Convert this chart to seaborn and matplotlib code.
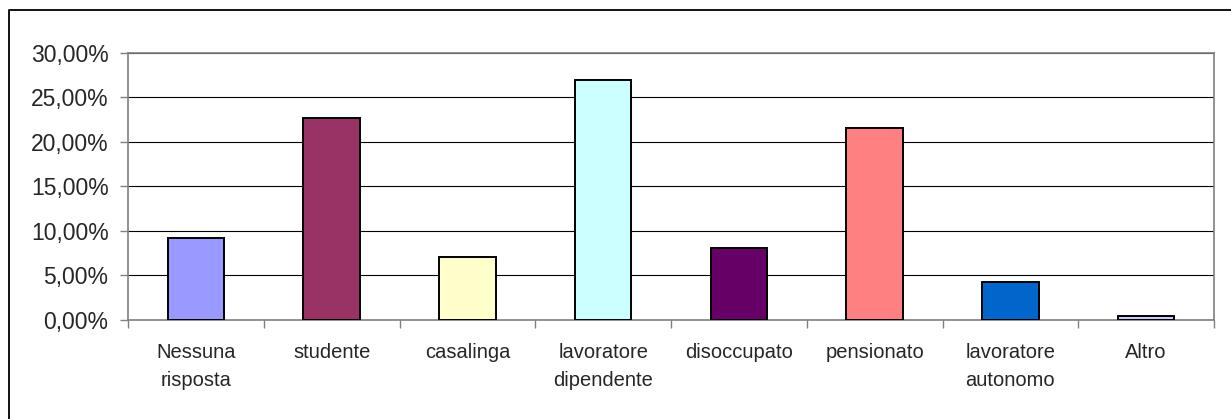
import numpy as np
import seaborn as sns
import matplotlib.pyplot as plt
from matplotlib.lines import Line2D
from matplotlib.ticker import FuncFormatter, MultipleLocator, FixedLocator

# dati
categorie = ['Nessuna\nrisposta', 'studente', 'casalinga', 'lavoratore\ndipendente',
             'disoccupato', 'pensionato', 'lavoratore\nautonomo', 'Altro']
percentuali = [9.22, 22.68, 7.04, 26.92, 8.02, 21.48, 4.27, 0.41]
colori = ['#9999FF', '#993366', '#FFFFCC', '#CCFFFF',
          '#660066', '#FF8080', '#0066CC', '#CCCCFF']

sns.set_style('white')
plt.rcParams['font.family'] = ['Liberation Sans', 'DejaVu Sans']

W, H = 1231, 419
fig = plt.figure(figsize=(W / 100, H / 100), dpi=100)
ax = fig.add_axes([128 / W, 1 - 319.5 / H, (1214 - 128) / W, (319.5 - 52.7) / H])

sns.barplot(x=categorie, y=percentuali, hue=categorie, palette=colori,
            width=0.415, edgecolor='black', linewidth=1.4, legend=False,
            saturation=1, ax=ax, zorder=3)

ax.set_xlim(-0.5, len(categorie) - 0.5)
ax.set_ylim(0, 30)
ax.yaxis.set_major_locator(MultipleLocator(5))
ax.yaxis.set_major_formatter(FuncFormatter(lambda v, p: f'{v:.2f}%'.replace('.', ',')))
ax.grid(axis='y', color='black', linewidth=0.8, zorder=0)
ax.set_axisbelow(True)

# tick tra le categorie
ax.xaxis.set_minor_locator(FixedLocator(np.arange(-0.5, len(categorie), 1)))
ax.tick_params(axis='x', which='major', length=0, pad=17, labelsize=14.5)
ax.tick_params(axis='x', which='minor', length=6, width=1, color='#808080', direction='out', bottom=True)
ax.tick_params(axis='y', length=6, width=1, color='#808080', direction='out', left=True, pad=8, labelsize=16.5)
for lab in ax.get_xticklabels():
    lab.set_linespacing(1.6)

for s in ax.spines.values():
    s.set_visible(True)
    s.set_color('#808080')
    s.set_linewidth(1.2)

ax.set_xlabel('')
ax.set_ylabel('')

# cornice esterna
xb = 8.5 / W
yt = 1 - 10 / H
fig.add_artist(Line2D([xb, xb, 1], [0, yt, yt], transform=fig.transFigure,
                      color='black', linewidth=1.3))

plt.savefig('out.png', dpi=100)
plt.close()
